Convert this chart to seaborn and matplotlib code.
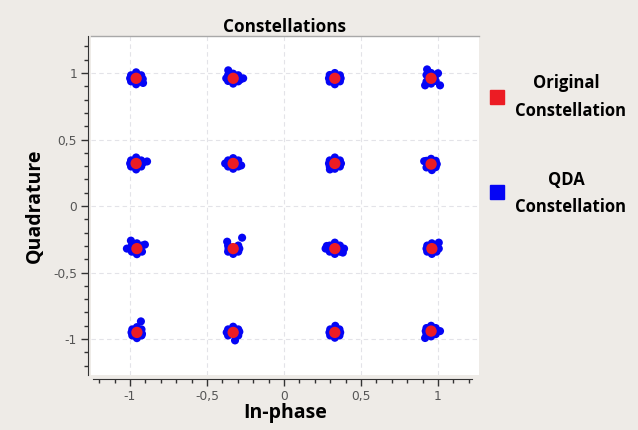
import matplotlib
matplotlib.use("Agg")
import matplotlib.pyplot as plt
import seaborn as sns
import pandas as pd
from matplotlib.ticker import FixedLocator, MultipleLocator, FuncFormatter
from matplotlib.lines import Line2D

# ---- data ----
orig_i = [-0.96, -0.33, 0.33, 0.955,
          -0.96, -0.33, 0.33, 0.955,
          -0.955, -0.33, 0.33, 0.96,
          -0.955, -0.33, 0.33, 0.955]
orig_q = [0.96, 0.96, 0.96, 0.96,
          0.32, 0.32, 0.32, 0.315,
          -0.32, -0.32, -0.32, -0.32,
          -0.95, -0.95, -0.95, -0.94]

qda_row1 = [(-0.96, 0.96), (-0.993, 0.983), (-0.927, 0.983), (-0.993, 0.937), (-0.927, 0.937),
            (-0.96, 1.005), (-0.96, 0.915), (-0.999, 0.96), (-0.917, 0.955), (-0.915, 0.925),
            (-0.33, 0.96), (-0.363, 0.983), (-0.297, 0.983), (-0.363, 0.94), (-0.297, 0.937),
            (-0.33, 0.995), (-0.33, 0.92), (-0.375, 0.96), (-0.265, 0.96), (-0.362, 1.02), (-0.285, 0.95),
            (0.33, 0.96), (0.297, 0.985), (0.363, 0.983), (0.297, 0.935), (0.363, 0.937),
            (0.33, 1.0), (0.33, 0.915), (0.292, 0.96), (0.368, 0.96),
            (0.955, 0.96), (0.925, 0.985), (0.985, 0.985), (0.925, 0.935), (0.985, 0.94),
            (0.955, 1.0), (0.955, 0.92), (0.929, 1.027), (1.0, 0.998), (1.013, 0.907), (0.916, 0.907)]
qda_row2 = [(-0.96, 0.32), (-0.993, 0.343), (-0.927, 0.343), (-0.993, 0.297), (-0.927, 0.297),
            (-0.96, 0.365), (-0.96, 0.275), (-0.999, 0.32), (-0.915, 0.325), (-0.889, 0.335),
            (-0.33, 0.32), (-0.363, 0.343), (-0.297, 0.343), (-0.363, 0.297), (-0.297, 0.297),
            (-0.33, 0.36), (-0.33, 0.28), (-0.382, 0.32), (-0.278, 0.305),
            (0.33, 0.32), (0.297, 0.343), (0.363, 0.343), (0.297, 0.297), (0.363, 0.297),
            (0.33, 0.365), (0.33, 0.28), (0.292, 0.32), (0.37, 0.32), (0.298, 0.275),
            (0.955, 0.315), (0.925, 0.34), (0.985, 0.34), (0.925, 0.29), (0.985, 0.292),
            (0.955, 0.355), (0.96, 0.27), (0.91, 0.337), (0.992, 0.315)]
qda_row3 = [(-0.955, -0.32), (-0.988, -0.297), (-0.922, -0.297), (-0.988, -0.343), (-0.922, -0.343),
            (-0.955, -0.28), (-0.955, -0.362), (-1.02, -0.32), (-0.994, -0.26), (-0.903, -0.29),
            (-0.33, -0.32), (-0.363, -0.297), (-0.297, -0.297), (-0.363, -0.343), (-0.297, -0.343),
            (-0.33, -0.36), (-0.369, -0.268), (-0.272, -0.238), (-0.29, -0.32), (-0.36, -0.32),
            (0.33, -0.32), (0.297, -0.297), (0.363, -0.297), (0.297, -0.343), (0.363, -0.343),
            (0.33, -0.275), (0.33, -0.36), (0.27, -0.32), (0.39, -0.32), (0.382, -0.35), (0.278, -0.3),
            (0.96, -0.32), (0.93, -0.297), (0.99, -0.297), (0.93, -0.343), (0.99, -0.343),
            (0.96, -0.28), (0.96, -0.36), (0.925, -0.32), (1.005, -0.275), (1.005, -0.32)]
qda_row4 = [(-0.955, -0.95), (-0.985, -0.927), (-0.925, -0.927), (-0.985, -0.973), (-0.925, -0.973),
            (-0.955, -0.91), (-0.955, -0.993), (-0.99, -0.95), (-0.929, -0.867), (-0.922, -0.96),
            (-0.33, -0.95), (-0.363, -0.927), (-0.297, -0.927), (-0.363, -0.973), (-0.297, -0.973),
            (-0.33, -0.907), (-0.318, -1.01), (-0.372, -0.95), (-0.29, -0.945),
            (0.33, -0.95), (0.3, -0.927), (0.36, -0.927), (0.3, -0.973), (0.36, -0.973),
            (0.333, -0.9), (0.33, -0.99), (0.295, -0.95), (0.365, -0.95),
            (0.955, -0.94), (0.925, -0.917), (0.985, -0.917), (0.925, -0.963), (0.985, -0.963),
            (0.955, -0.9), (0.955, -0.98), (0.916, -0.992), (1.013, -0.94), (0.92, -0.94)]

major_ticks = [-1, -0.5, 0, 0.5, 1]
title = "Constellations"
xlabel = "In-phase"
ylabel = "Quadrature"
legend_labels = [("Original", "Constellation"), ("QDA", "Constellation")]

# ---- build frames ----
qda_pts = qda_row1 + qda_row2 + qda_row3 + qda_row4
qda_df = pd.DataFrame(qda_pts, columns=["I", "Q"])
orig_df = pd.DataFrame({"I": orig_i, "Q": orig_q})

BG = "#EEEBE7"
BLUE = "#0505F5"
RED = "#EC1C24"
FONT = "Open Sans"

fig = plt.figure(figsize=(6.38, 4.30), dpi=100, facecolor=BG)
W, H = 638, 430
ax = fig.add_axes([91 / W, 1 - 375 / H, (479 - 91) / W, (375 - 36) / H])
ax.set_facecolor("white")

sns.scatterplot(data=qda_df, x="I", y="Q", ax=ax, color=BLUE, s=34,
                edgecolor="none", linewidth=0, zorder=3, legend=False)
sns.scatterplot(data=orig_df, x="I", y="Q", ax=ax, color=RED, s=66,
                edgecolor="none", linewidth=0, zorder=4, legend=False)

ax.set_xlim(-1.253, 1.266)
ax.set_ylim(-1.27, 1.278)

ax.xaxis.set_major_locator(FixedLocator(major_ticks))
ax.yaxis.set_major_locator(FixedLocator(major_ticks))
ax.xaxis.set_minor_locator(MultipleLocator(0.1))
ax.yaxis.set_minor_locator(MultipleLocator(0.1))
fmt = FuncFormatter(lambda v, p: ("%g" % v).replace(".", ","))
ax.xaxis.set_major_formatter(fmt)
ax.yaxis.set_major_formatter(fmt)

ax.grid(True, which="major", linestyle=(0, (4, 3)), color="#E3E3E8", linewidth=0.8, zorder=0)
ax.set_axisbelow(True)

ax.spines["right"].set_visible(False)
ax.spines["top"].set_color("#A8A8A8")
ax.spines["top"].set_linewidth(1.0)
ax.spines["left"].set_position(("outward", 2))
ax.spines["bottom"].set_position(("outward", 3))
ax.spines["left"].set_color("#333333")
ax.spines["bottom"].set_color("#333333")
ax.spines["bottom"].set_bounds(-1.24, 1.22)

ax.tick_params(which="major", direction="out", length=5, width=1, color="#333333",
               labelcolor="#555555", labelsize=8.8, pad=3)
ax.tick_params(which="minor", direction="out", length=3, width=1, color="#333333")

ax.set_xlabel(xlabel, fontsize=14, fontweight="bold", family=FONT, labelpad=0)
ax.set_ylabel(ylabel, fontsize=14, fontweight="bold", family=FONT, labelpad=6)
ax.set_title(title, fontsize=12.3, fontweight="bold", family=FONT, pad=2)

# legend (custom, in figure pixels)
def fx(px):
    return px / W
def fy(py):
    return 1 - py / H

for (l1, l2), col, ym, y1, y2 in [(legend_labels[0], RED, 97, 83, 111),
                                    (legend_labels[1], BLUE, 192, 180, 207)]:
    fig.add_artist(Line2D([fx(497)], [fy(ym)], marker="s", markersize=9.5,
                          color=col, linestyle="none", transform=fig.transFigure))
    fig.text(fx(566), fy(y1), l1, ha="center", va="center", fontsize=12,
             fontweight="bold", family=FONT)
    fig.text(fx(570), fy(y2), l2, ha="center", va="center", fontsize=12,
             fontweight="bold", family=FONT)

fig.savefig("out.png", dpi=100, facecolor=BG)
